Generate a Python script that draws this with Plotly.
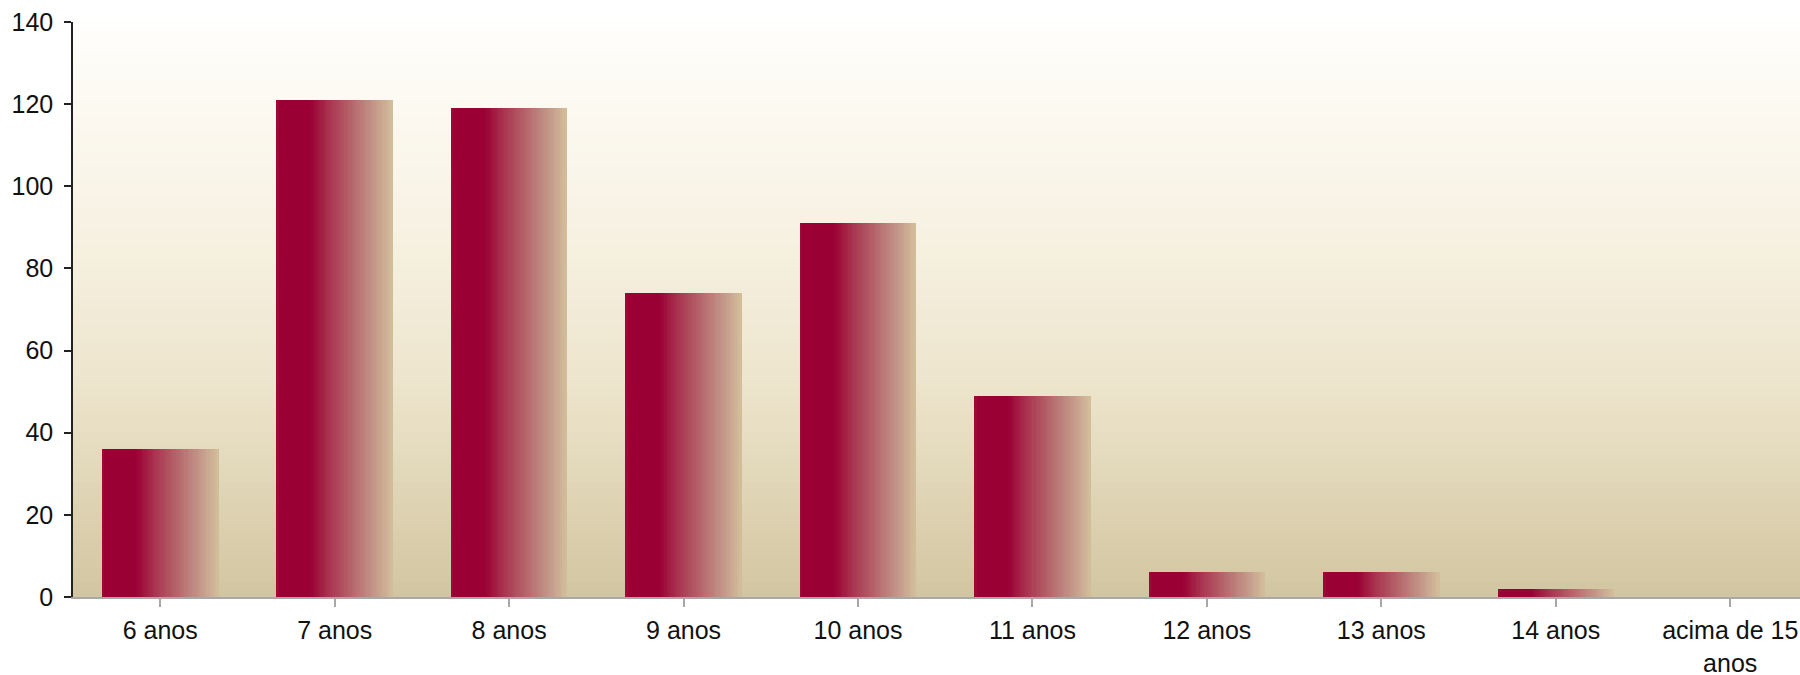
import plotly.graph_objects as go

categories = ["6 anos", "7 anos", "8 anos", "9 anos", "10 anos", "11 anos",
              "12 anos", "13 anos", "14 anos", "acima de 15<br>anos"]
values = [36, 121, 119, 74, 91, 49, 6, 6, 2, 0]
y_ticks = [0, 20, 40, 60, 80, 100, 120, 140]


def hex2rgb(h):
    h = h.lstrip("#")
    return tuple(int(h[i:i + 2], 16) for i in (0, 2, 4))


def interp(stops, t):
    for (t0, c0), (t1, c1) in zip(stops, stops[1:]):
        if t0 <= t <= t1:
            f = 0 if t1 == t0 else (t - t0) / (t1 - t0)
            a, b = hex2rgb(c0), hex2rgb(c1)
            return "rgb(%d,%d,%d)" % tuple(round(a[i] + (b[i] - a[i]) * f) for i in range(3))
    return stops[-1][1]


bar_stops = [(0.0, "#A0103F"), (0.02, "#9A0034"), (0.29, "#9A0034"),
             (0.45, "#A8334F"), (0.65, "#B5676C"), (0.85, "#C4998A"), (1.0, "#D3C09C")]
bg_stops = [(0.0, "#D2C5A1"), (0.15, "#DDD2B2"), (0.35, "#ECE3CA"),
            (0.6, "#F6F0E0"), (0.85, "#FCF9F1"), (1.0, "#FFFEFC")]

fig = go.Figure()

bar_width = 0.667
n_strips = 48
sw = bar_width / n_strips
xs = list(range(len(categories)))
for k in range(n_strips):
    t = (k + 0.5) / n_strips
    fig.add_trace(go.Bar(
        x=xs, y=values,
        width=[sw * 1.08] * len(xs),
        offset=-bar_width / 2 + k * sw,
        marker=dict(color=interp(bar_stops, t), line=dict(width=0)),
        hoverinfo="skip", showlegend=False,
    ))

# background gradient of plot area
n_bg = 80
for k in range(n_bg):
    y0 = k / n_bg
    fig.add_shape(type="rect", xref="x domain", yref="y domain",
                  x0=0, x1=1, y0=y0, y1=y0 + 1 / n_bg + 0.002,
                  fillcolor=interp(bg_stops, (k + 0.5) / n_bg),
                  line=dict(width=0), layer="below")

fig.update_layout(
    width=1800, height=675,
    barmode="overlay", bargap=0,
    paper_bgcolor="white", plot_bgcolor="white",
    margin=dict(l=73, r=0, t=22, b=78),
    font=dict(family="Liberation Sans, Arial, sans-serif", size=25, color="#111111"),
    showlegend=False,
)
fig.update_xaxes(
    range=[-0.5, 9.4], automargin=False,
    tickmode="array", tickvals=xs, ticktext=categories,
    showgrid=False, zeroline=False,
    showline=True, linecolor="#A8A8A8", linewidth=2,
    ticks="outside", tickson="boundaries", ticklen=8, tickcolor="#A8A8A8", tickwidth=2,
    ticklabelstandoff=2,
)
fig.update_yaxes(
    range=[0, 140], tickvals=y_ticks, automargin=False,
    showgrid=False, zeroline=False,
    showline=True, linecolor="#222222", linewidth=1.5,
    ticks="outside", ticklen=7, tickcolor="#222222", tickwidth=1.5,
    ticklabelstandoff=6,
)

fig.write_html(
    "out.html",
    config={"displayModeBar": False},
    post_script="document.body.style.margin='0';document.body.style.overflow='hidden';",
)
